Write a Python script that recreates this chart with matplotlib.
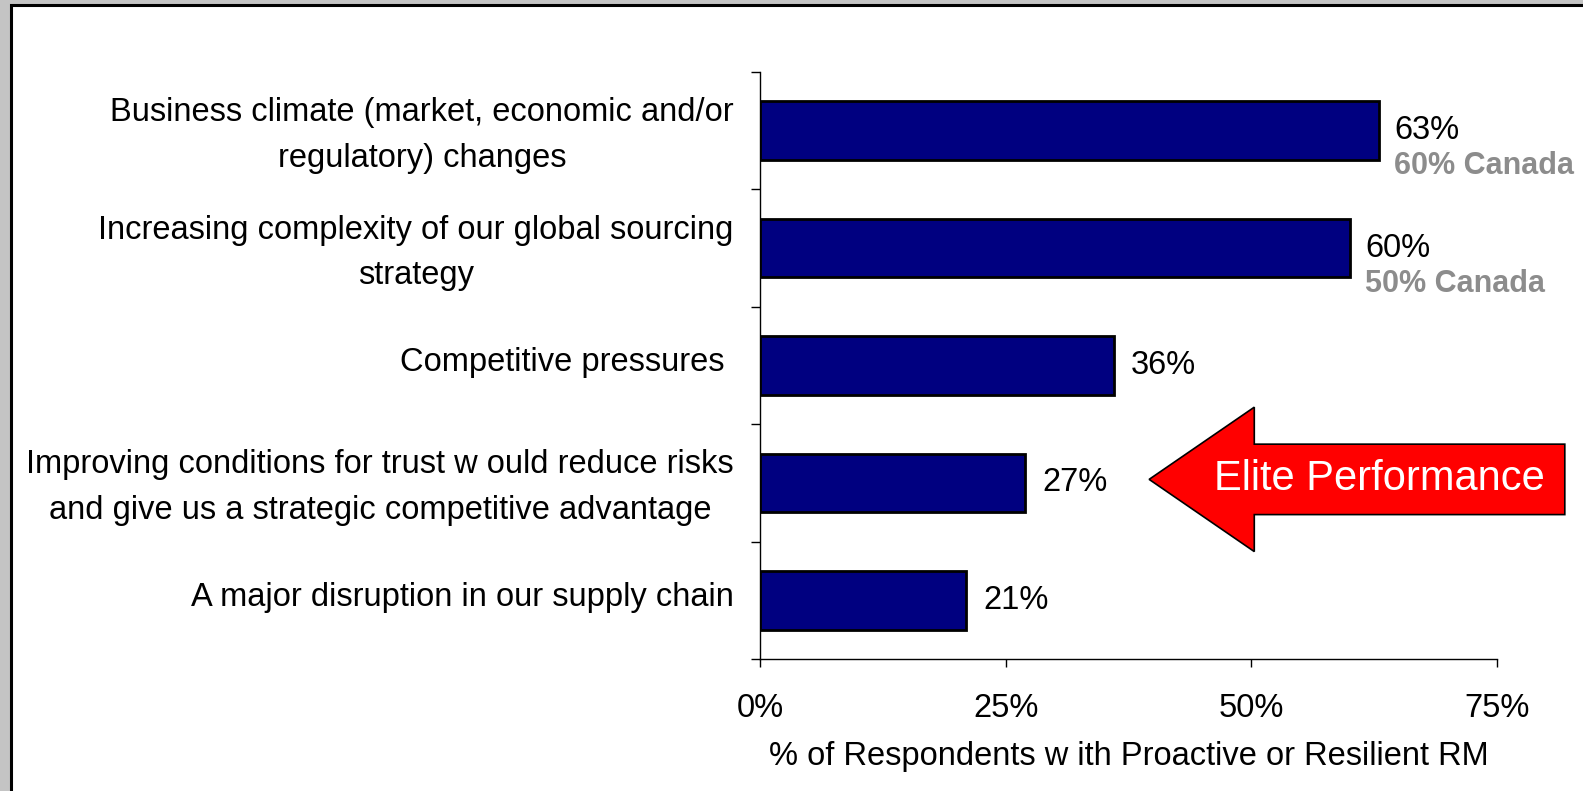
import matplotlib.pyplot as plt
import matplotlib.transforms as mtransforms
import numpy as np
from matplotlib.patches import Polygon, Rectangle

plt.rcParams['font.family'] = ['Liberation Sans', 'DejaVu Sans']

# data (top to bottom as shown)
categories = [
    "Business climate (market, economic and/or\nregulatory) changes",
    "Increasing complexity of our global sourcing\nstrategy",
    "Competitive pressures ",
    "Improving conditions for trust w ould reduce risks\nand give us a strategic competitive advantage",
    "A major disruption in our supply chain",
]
values = [63, 60, 36, 27, 21]
canada = [60, 50, None, None, None]
x_ticks = [0, 25, 50, 75]
x_label = "% of Respondents w ith Proactive or Resilient RM"
arrow_text = "Elite Performance"
arrow_row = 3

n = len(categories)
ypos = np.arange(n)[::-1]
fs = 23.5

fig = plt.figure(figsize=(15.83, 7.91), dpi=100)
fig.patch.set_facecolor('#c4c4c4')
# white panel with black frame (left + top edges visible)
fig.patches.append(Rectangle((11 / 1583, -0.05), 1.1, (791 - 5.5) / 791 + 0.05,
                             transform=fig.transFigure, facecolor='white',
                             edgecolor='black', linewidth=2.2, zorder=-5))

ax = fig.add_axes([760 / 1583, 1 - 659 / 791, (1497 - 760) / 1583, (659 - 72) / 791])
ax.set_facecolor('none')

ax.barh(ypos, values, height=0.5, color='#000080', edgecolor='black', linewidth=2, zorder=3)

for y, v, c in zip(ypos, values, canada):
    if c is None:
        ax.annotate(f"{v}%", (v, y), xytext=(12, 0), textcoords='offset points',
                    va='center', ha='left', fontsize=fs)
    else:
        ax.annotate(f"{v}%", (v, y), xytext=(11, 0), textcoords='offset points',
                    va='center', ha='left', fontsize=fs)
        ax.annotate(f"{c}% Canada", (v, y), xytext=(11, -25.5), textcoords='offset points',
                    va='center', ha='left', fontsize=22, fontweight='bold', color='#8c8c8c')

ax.set_xlim(0, 75)
ax.set_ylim(-0.5, n - 0.5)
ax.set_xticks(x_ticks)
ax.set_xticklabels([f"{t}%" for t in x_ticks], fontsize=fs)
ax.tick_params(axis='x', direction='out', length=6, width=1, pad=18.5)

ax.set_yticks(ypos)
ax.set_yticklabels(categories, fontsize=fs, multialignment='center', linespacing=1.6)
ax.tick_params(axis='y', which='major', length=0, pad=19)
ax.set_yticks(np.arange(-0.5, n, 1.0), minor=True)
ax.tick_params(axis='y', which='minor', direction='out', length=6.5, width=1)
# category labels sit a little above the bar centres
shift = mtransforms.ScaledTranslation(0, 0.06, fig.dpi_scale_trans)
for lbl in ax.get_yticklabels():
    lbl.set_transform(lbl.get_transform() + shift)

ax.set_xlabel(x_label, fontsize=fs, labelpad=12)

for s in ['top', 'right']:
    ax.spines[s].set_visible(False)
for s in ['left', 'bottom']:
    ax.spines[s].set_linewidth(1)

# red arrow pointing at the trust bar
yc = ypos[arrow_row] + 0.03
tip_x, head_x, tail_x = 39.6, 50.3, 81.9
head_h, shaft_h = 0.615, 0.30
arrow = Polygon([(tip_x, yc), (head_x, yc + head_h), (head_x, yc + shaft_h),
                 (tail_x, yc + shaft_h), (tail_x, yc - shaft_h),
                 (head_x, yc - shaft_h), (head_x, yc - head_h)],
                closed=True, facecolor='#ff0000', edgecolor='black',
                linewidth=1.2, clip_on=False, zorder=5)
ax.add_patch(arrow)
ax.text(63.0, yc, arrow_text, color='white', fontsize=30, ha='center', va='center',
        zorder=6, clip_on=False)

fig.savefig('out.png', dpi=100, facecolor=fig.get_facecolor())
